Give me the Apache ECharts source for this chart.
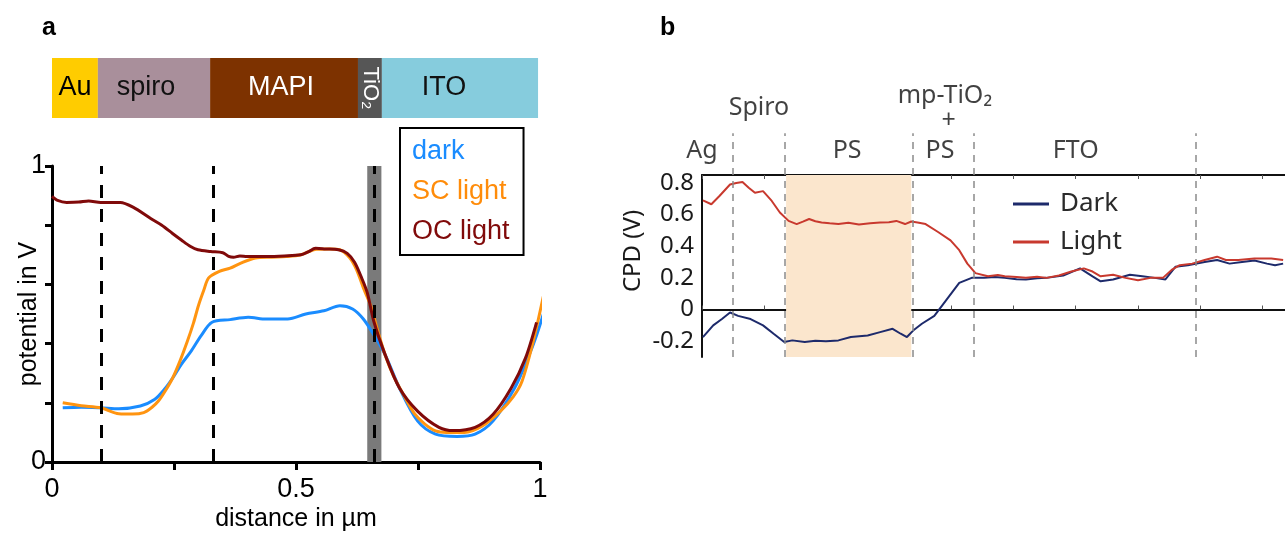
<!DOCTYPE html>
<html><head><meta charset="utf-8">
<script src="https://cdn.jsdelivr.net/npm/echarts@6/dist/echarts.min.js"></script>
<style>html,body{margin:0;padding:0;background:#fff}#c{width:1285px;height:537px}</style>
</head><body><div id="c"></div>
<script>
// ---------- Panel a data ----------
const layerNames = ['Au', 'spiro', 'MAPI', 'TiO₂', 'ITO'];
const layerWidths = [0.094, 0.23, 0.303, 0.049, 0.32];
const aBoundaries = [0.1, 0.325, 0.659];
const aBand = [0.646, 0.675];
const aXTicksShown = [0, 0.5, 1];
const aYTicksShown = [0, 1];

const darkDist = [0.022,0.06,0.1,0.137,0.181,0.21,0.23,0.247,0.265,0.284,0.306,0.328,0.365,0.402,0.439,0.483,0.52,0.557,0.59,0.616,0.638,0.66,0.683,0.712,0.749,0.786,0.83,0.867,0.904,0.948,0.975,0.993,1.012,1.026];
const darkPot  = [0.183,0.185,0.183,0.18,0.189,0.211,0.245,0.283,0.33,0.372,0.428,0.472,0.481,0.489,0.483,0.483,0.5,0.511,0.528,0.517,0.483,0.428,0.361,0.25,0.139,0.094,0.086,0.094,0.139,0.25,0.35,0.428,0.53,0.628];

const scDist = [0.022,0.06,0.1,0.137,0.165,0.188,0.205,0.218,0.232,0.247,0.262,0.277,0.29,0.3,0.311,0.321,0.343,0.365,0.387,0.417,0.45,0.48,0.51,0.542,0.57,0.59,0.61,0.624,0.64,0.653,0.668,0.683,0.7,0.72,0.742,0.764,0.786,0.808,0.845,0.882,0.919,0.945,0.963,0.985,1.007];
const scPot  = [0.2,0.19,0.183,0.163,0.162,0.167,0.185,0.206,0.24,0.283,0.34,0.406,0.47,0.528,0.58,0.622,0.644,0.655,0.672,0.689,0.692,0.694,0.7,0.719,0.72,0.717,0.69,0.65,0.58,0.528,0.44,0.36,0.29,0.228,0.165,0.128,0.105,0.1,0.1,0.122,0.172,0.22,0.272,0.4,0.561];

const ocDist = [0,0.01,0.03,0.055,0.075,0.1,0.14,0.166,0.203,0.225,0.247,0.265,0.284,0.299,0.325,0.35,0.362,0.372,0.385,0.4,0.44,0.476,0.51,0.525,0.54,0.56,0.587,0.605,0.62,0.635,0.646,0.66,0.683,0.712,0.749,0.793,0.823,0.867,0.904,0.941,0.97,0.993];
const ocPot  = [0.897,0.885,0.877,0.878,0.882,0.877,0.877,0.861,0.822,0.8,0.772,0.75,0.728,0.717,0.711,0.707,0.695,0.692,0.696,0.694,0.694,0.696,0.7,0.71,0.722,0.72,0.717,0.705,0.675,0.62,0.572,0.472,0.361,0.25,0.172,0.117,0.106,0.117,0.161,0.25,0.35,0.472];

// ---------- Panel b data ----------
const bBoundaries = [0.5, 1.33, 3.38, 4.37, 7.93];
const bShade = [1.35, 3.36];
const bLabels = ['Ag', 'Spiro', 'PS', 'mp-TiO₂', '+', 'PS', 'FTO'];
const bLabelX = [0.0, 0.915, 2.33, 3.9, 3.96, 3.82, 6.0];
const bLabelY = [0.253, 0.705, 0.253, 0.83, 0.568, 0.253, 0.253];
const bYTicksShown = [-0.2, 0, 0.2, 0.4, 0.6, 0.8];

const bLightPos = [0.015,0.15,0.28,0.45,0.55,0.65,0.75,0.85,0.98,1.12,1.25,1.39,1.52,1.62,1.72,1.82,1.92,2.05,2.19,2.35,2.52,2.7,2.86,3.0,3.12,3.26,3.36,3.46,3.59,3.79,3.99,4.13,4.26,4.39,4.59,4.75,4.86,5.05,5.2,5.38,5.53,5.73,5.93,6.13,6.27,6.4,6.6,6.8,7.0,7.2,7.4,7.54,7.67,7.87,8.07,8.27,8.41,8.61,8.87,9.14,9.33];
const bLightCpd = [0.69,0.665,0.717,0.79,0.8,0.806,0.77,0.738,0.748,0.686,0.613,0.56,0.54,0.555,0.572,0.558,0.55,0.545,0.54,0.548,0.537,0.545,0.55,0.552,0.56,0.54,0.556,0.55,0.54,0.49,0.437,0.375,0.29,0.23,0.21,0.218,0.21,0.205,0.2,0.207,0.2,0.215,0.24,0.26,0.24,0.21,0.22,0.2,0.185,0.2,0.2,0.25,0.28,0.29,0.313,0.334,0.313,0.313,0.323,0.323,0.313];

const bDarkPos = [0.015,0.18,0.32,0.45,0.58,0.78,0.98,1.15,1.32,1.45,1.65,1.82,1.99,2.19,2.39,2.66,2.86,3.06,3.19,3.29,3.39,3.53,3.73,3.93,4.13,4.33,4.53,4.7,4.86,5.05,5.2,5.38,5.53,5.8,6.07,6.27,6.4,6.6,6.87,7.07,7.27,7.44,7.6,7.8,8.07,8.27,8.47,8.67,8.87,9.07,9.2,9.33];
const bDarkCpd = [-0.174,-0.1,-0.06,-0.019,-0.04,-0.06,-0.1,-0.153,-0.205,-0.195,-0.205,-0.198,-0.2,-0.195,-0.174,-0.164,-0.143,-0.122,-0.153,-0.174,-0.133,-0.09,-0.04,0.064,0.168,0.2,0.2,0.205,0.2,0.192,0.19,0.198,0.2,0.215,0.26,0.21,0.178,0.19,0.22,0.21,0.2,0.19,0.27,0.28,0.3,0.313,0.29,0.3,0.31,0.29,0.28,0.29];

// ---------- build ----------
const zip = (xs, ys) => xs.map((x, i) => [x, ys[i]]);
const near = (v, list) => list.some(t => Math.abs(v - t) < 1e-6);
const FA = 'Liberation Sans, Arial, sans-serif';
const FB = 'Noto Sans, Open Sans, sans-serif';

const layerStyle = {
  'Au':   {color: '#FFCC00', text: '#000', offset: [0, 0], rotate: 0},
  'spiro':{color: '#A98F9B', text: '#111', offset: [-8, 0], rotate: 0},
  'MAPI': {color: '#7D3200', text: '#fff', offset: [-3, 0], rotate: 0},
  'TiO₂': {color: '#565656', text: '#fff', offset: [0, 0], rotate: -90},
  'ITO':  {color: '#86CCDD', text: '#111', offset: [-16, 0], rotate: 0}
};

const layerSeries = layerNames.map((n, i) => ({
  type: 'bar', name: n, xAxisIndex: 0, yAxisIndex: 0, stack: 'layers',
  barWidth: '100%', data: [layerWidths[i]], silent: true,
  itemStyle: {color: layerStyle[n].color},
  label: {show: true, position: 'inside', formatter: n, color: layerStyle[n].text,
    fontFamily: FA, fontSize: n === 'TiO₂' ? 22 : 27, rotate: layerStyle[n].rotate,
    offset: layerStyle[n].offset}
}));

const chart = echarts.init(document.getElementById('c'));
chart.setOption({
  animation: false,
  backgroundColor: '#fff',
  title: [
    {text: 'a', left: 37, top: 11, textStyle: {fontSize: 25, fontWeight: 'bold', fontFamily: FA, color: '#000'}},
    {text: 'b', left: 655, top: 11, textStyle: {fontSize: 25, fontWeight: 'bold', fontFamily: FA, color: '#000'}}
  ],
  legend: [
    {data: [{name: 'dark', textStyle: {color: '#1a8cff'}}, {name: 'SC light', textStyle: {color: '#ff8c0a'}}, {name: 'OC light', textStyle: {color: '#800a0a'}}],
     orient: 'vertical', left: 400, top: 128, icon: 'rect', itemWidth: 0, itemHeight: 0,
     itemGap: 13, padding: [10, 14, 10, 7], borderColor: '#000', borderWidth: 2,
     selectedMode: false, textStyle: {fontSize: 27, fontFamily: FA}},
    {data: ['Dark', 'Light'], orient: 'vertical', left: 1008, top: 186, icon: 'rect',
     itemWidth: 36, itemHeight: 3, itemGap: 12, selectedMode: false,
     textStyle: {fontSize: 26, fontFamily: FB, color: '#2a2a2a', padding: [0, 0, 0, 6]}}
  ],
  grid: [
    {left: 52, right: 745, top: 58, height: 60},
    {left: 52, right: 745, top: 166, bottom: 72},
    {left: 702, right: 0, top: 80, height: 95},
    {left: 702, right: 0, top: 175, bottom: 180}
  ],
  xAxis: [
    {gridIndex: 0, type: 'value', min: 0, max: 1, show: false},
    {gridIndex: 1, type: 'value', min: 0, max: 1, interval: 0.25,
     axisLine: {lineStyle: {color: '#000', width: 3}},
     axisTick: {length: 8, lineStyle: {width: 3, color: '#000'}},
     splitLine: {show: false},
     axisLabel: {fontSize: 27, fontFamily: FA, color: '#000', margin: 14,
       formatter: v => near(v, aXTicksShown) ? String(+v.toFixed(2)) : ''},
     name: 'distance in µm', nameLocation: 'middle', nameGap: 45, nameMoveOverlap: false,
     nameTextStyle: {fontSize: 25, fontFamily: FA, color: '#000'}},
    {gridIndex: 2, type: 'value', min: 0, max: 9.36, show: false},
    {gridIndex: 3, type: 'value', min: 0, max: 9.36, interval: 1, position: 'bottom',
     axisLine: {lineStyle: {color: '#111', width: 2}},
     axisTick: {inside: true, length: 4, lineStyle: {color: '#555'}},
     axisLabel: {show: false}, splitLine: {show: false}},
    {gridIndex: 3, type: 'value', min: 0, max: 9.36, interval: 1, position: 'top',
     axisLine: {lineStyle: {color: '#111', width: 2}},
     axisTick: {inside: true, length: 4, lineStyle: {color: '#555'}},
     axisLabel: {show: false}, splitLine: {show: false}}
  ],
  yAxis: [
    {gridIndex: 0, type: 'category', data: ['layers'], show: false},
    {gridIndex: 1, type: 'value', min: 0, max: 1, interval: 0.2,
     axisLine: {lineStyle: {color: '#000', width: 3}},
     axisTick: {length: 7, lineStyle: {width: 3, color: '#000'}},
     splitLine: {show: false},
     axisLabel: {fontSize: 27, fontFamily: FA, color: '#000', margin: 6,
       formatter: v => near(v, aYTicksShown) ? String(Math.round(v)) : ''},
     name: 'potential in V', nameLocation: 'middle', nameGap: 10, nameRotate: 90, nameMoveOverlap: false,
     nameTextStyle: {fontSize: 25, fontFamily: FA, color: '#000', verticalAlign: 'bottom'}},
    {gridIndex: 2, type: 'value', min: 0, max: 1, show: false},
    {gridIndex: 3, type: 'value', min: -0.3, max: 0.85, interval: 0.1,
     axisLine: {lineStyle: {color: '#111', width: 2}},
     axisTick: {show: false}, splitLine: {show: false},
     axisLabel: {fontSize: 24, fontFamily: FB, color: '#1a1a1a', margin: 8, showMaxLabel: false,
       formatter: v => near(v, bYTicksShown) ? (Math.abs(v) < 1e-9 ? '0' : v.toFixed(1)) : ''},
     name: 'CPD (V)', nameLocation: 'middle', nameGap: 57, nameMoveOverlap: false, nameRotate: 90,
     nameTextStyle: {fontSize: 24, fontFamily: FB, color: '#1a1a1a', verticalAlign: 'bottom', padding: [0, 0, 0, 30]}}
  ],
  series: [
    ...layerSeries,
    {type: 'line', name: 'dark', xAxisIndex: 1, yAxisIndex: 1, data: zip(darkDist, darkPot),
     symbol: 'none', smooth: 0.3, clip: false, color: '#1a8cff', lineStyle: {width: 3},
     markArea: {silent: true, itemStyle: {color: '#7a7a7a'}, data: [[{xAxis: aBand[0]}, {xAxis: aBand[1]}]]}},
    {type: 'line', name: 'SC light', xAxisIndex: 1, yAxisIndex: 1, data: zip(scDist, scPot),
     symbol: 'none', smooth: 0.3, clip: false, color: '#ff9410', lineStyle: {width: 3}},
    {type: 'line', name: 'OC light', xAxisIndex: 1, yAxisIndex: 1, data: zip(ocDist, ocPot),
     symbol: 'none', smooth: 0.3, clip: false, color: '#800a0a', lineStyle: {width: 3},
     markLine: {silent: true, symbol: ['none', 'none'], label: {show: false},
       lineStyle: {color: '#000', width: 3, type: [13, 11]},
       data: aBoundaries.map(b => ({xAxis: b}))}},
    {type: 'line', name: 'Dark', xAxisIndex: 3, yAxisIndex: 3, data: zip(bDarkPos, bDarkCpd),
     symbol: 'none', color: '#1d2a6b', lineStyle: {width: 2},
     markArea: {silent: true, itemStyle: {color: '#fbe6cd'}, data: [[{xAxis: bShade[0]}, {xAxis: bShade[1]}]]},
     markLine: {silent: true, symbol: ['none', 'none'], label: {show: false},
       lineStyle: {color: '#8a8a8a', width: 1.5, type: [7, 6]},
       data: bBoundaries.map(b => ({xAxis: b}))}},
    {type: 'line', name: 'Light', xAxisIndex: 3, yAxisIndex: 3, data: zip(bLightPos, bLightCpd),
     symbol: 'none', color: '#c8392e', lineStyle: {width: 2}},
    {type: 'scatter', name: 'layerLabels', xAxisIndex: 2, yAxisIndex: 2, silent: true,
     symbolSize: 1, itemStyle: {color: 'rgba(0,0,0,0)'},
     data: bLabels.map((t, i) => ({name: t, value: [bLabelX[i], bLabelY[i]]})),
     label: {show: true, position: 'inside', formatter: '{b}', fontSize: 25, fontFamily: FB, color: '#111'},
     markLine: {silent: true, symbol: ['none', 'none'], label: {show: false},
       lineStyle: {color: '#8a8a8a', width: 1.5, type: [7, 6]},
       data: bBoundaries.map(b => [{coord: [b, 0]}, {coord: [b, 0.44]}])}}
  ]
});
</script></body></html>
